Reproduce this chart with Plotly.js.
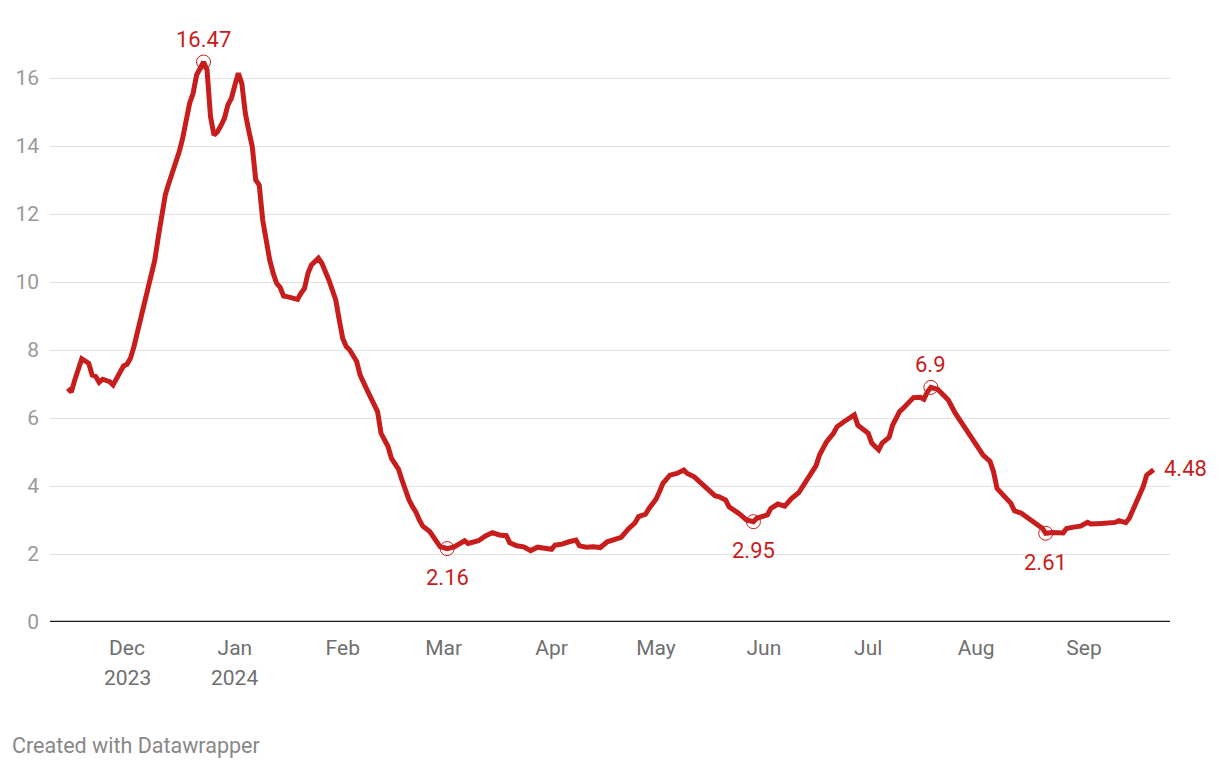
<!DOCTYPE html>
<html>
<head>
<meta charset="utf-8">
<script src="https://cdn.plot.ly/plotly-3.0.1.min.js"></script>
<style>
  html, body { margin: 0; padding: 0; background: #ffffff; }
  #chart { width: 1220px; height: 768px; }
</style>
</head>
<body>
<div id="chart"></div>
<script>
// ---- data ----
const dates = [
  "2023-11-14","2023-11-15","2023-11-16","2023-11-18","2023-11-20","2023-11-21","2023-11-22","2023-11-23","2023-11-24","2023-11-26",
  "2023-11-27","2023-11-28","2023-11-30","2023-12-01","2023-12-02","2023-12-03","2023-12-04","2023-12-05","2023-12-06","2023-12-07",
  "2023-12-08","2023-12-09","2023-12-10","2023-12-11","2023-12-12","2023-12-13","2023-12-14","2023-12-15","2023-12-16","2023-12-17",
  "2023-12-18","2023-12-19","2023-12-20","2023-12-21","2023-12-22","2023-12-23","2023-12-24","2023-12-25","2023-12-26","2023-12-27",
  "2023-12-28","2023-12-29","2023-12-30","2023-12-31","2024-01-01","2024-01-02","2024-01-03","2024-01-04","2024-01-05","2024-01-06",
  "2024-01-07","2024-01-08","2024-01-09","2024-01-10","2024-01-11","2024-01-12","2024-01-13","2024-01-14","2024-01-15","2024-01-16",
  "2024-01-18","2024-01-19","2024-01-20","2024-01-21","2024-01-22","2024-01-23","2024-01-25","2024-01-26","2024-01-28","2024-01-30",
  "2024-01-31","2024-02-01","2024-02-02","2024-02-03","2024-02-05","2024-02-06","2024-02-08","2024-02-09","2024-02-11","2024-02-12",
  "2024-02-14","2024-02-15","2024-02-16","2024-02-17","2024-02-18","2024-02-19","2024-02-20","2024-02-21","2024-02-22","2024-02-23",
  "2024-02-24","2024-02-26","2024-02-27","2024-02-28","2024-02-29","2024-03-01","2024-03-02","2024-03-04","2024-03-05","2024-03-07",
  "2024-03-08","2024-03-10","2024-03-11","2024-03-13","2024-03-15","2024-03-17","2024-03-19","2024-03-20","2024-03-22","2024-03-24",
  "2024-03-26","2024-03-28","2024-03-30","2024-04-01","2024-04-02","2024-04-04","2024-04-06","2024-04-08","2024-04-09","2024-04-11",
  "2024-04-13","2024-04-15","2024-04-17","2024-04-19","2024-04-21","2024-04-23","2024-04-25","2024-04-26","2024-04-28","2024-04-29",
  "2024-05-01","2024-05-02","2024-05-03","2024-05-05","2024-05-07","2024-05-09","2024-05-10","2024-05-12","2024-05-14","2024-05-16",
  "2024-05-18","2024-05-19","2024-05-21","2024-05-22","2024-05-24","2024-05-25","2024-05-27","2024-05-29","2024-05-30","2024-06-01",
  "2024-06-02","2024-06-03","2024-06-05","2024-06-07","2024-06-09","2024-06-11","2024-06-13","2024-06-15","2024-06-16","2024-06-17",
  "2024-06-19","2024-06-21","2024-06-22","2024-06-24","2024-06-25","2024-06-27","2024-06-28","2024-06-30","2024-07-01","2024-07-02",
  "2024-07-04","2024-07-05","2024-07-07","2024-07-08","2024-07-10","2024-07-11","2024-07-13","2024-07-14","2024-07-16","2024-07-17",
  "2024-07-18","2024-07-19","2024-07-21","2024-07-22","2024-07-24","2024-07-26","2024-07-28","2024-07-30","2024-07-31","2024-08-02",
  "2024-08-03","2024-08-05","2024-08-06","2024-08-07","2024-08-09","2024-08-11","2024-08-12","2024-08-14","2024-08-16","2024-08-18",
  "2024-08-20","2024-08-21","2024-08-23","2024-08-26","2024-08-27","2024-08-29","2024-08-31","2024-09-02","2024-09-03","2024-09-06",
  "2024-09-08","2024-09-10","2024-09-11","2024-09-13","2024-09-14","2024-09-16","2024-09-18","2024-09-19","2024-09-21"
];
const values = [
  6.87,6.76,7.12,7.74,7.61,7.26,7.22,7.05,7.14,7.07,
  6.97,7.15,7.53,7.58,7.76,8.10,8.54,8.98,9.47,9.76,
  10.20,10.65,11.33,12.02,12.56,12.90,13.20,13.59,13.83,14.23,
  14.81,15.26,15.55,16.09,16.28,16.47,16.24,14.86,14.32,14.42,
  14.60,14.81,15.21,15.40,15.79,16.14,15.84,14.96,14.45,13.98,
  13.00,12.85,11.82,11.14,10.65,10.26,9.96,9.84,9.59,9.57,
  9.52,9.49,9.67,9.81,10.26,10.50,10.70,10.55,10.06,9.47,
  8.88,8.34,8.10,8.00,7.66,7.26,6.82,6.58,6.19,5.55,
  5.16,4.81,4.65,4.50,4.18,3.85,3.60,3.40,3.24,3.00,
  2.82,2.66,2.51,2.31,2.21,2.19,2.16,2.21,2.28,2.39,
  2.31,2.36,2.39,2.53,2.63,2.56,2.54,2.33,2.24,2.21,
  2.10,2.20,2.17,2.14,2.26,2.29,2.36,2.41,2.24,2.20,
  2.21,2.19,2.36,2.41,2.49,2.73,2.92,3.10,3.17,3.34,
  3.61,3.83,4.08,4.32,4.37,4.47,4.37,4.27,4.08,3.88,
  3.71,3.69,3.59,3.39,3.27,3.18,3.00,2.95,3.05,3.12,
  3.15,3.34,3.47,3.41,3.64,3.80,4.10,4.40,4.60,4.91,
  5.30,5.55,5.74,5.89,5.96,6.09,5.79,5.65,5.55,5.26,
  5.06,5.26,5.43,5.79,6.19,6.28,6.53,6.60,6.61,6.55,
  6.77,6.90,6.84,6.73,6.53,6.14,5.84,5.50,5.35,5.11,
  4.91,4.72,4.42,3.93,3.69,3.49,3.27,3.20,3.05,2.90,
  2.76,2.61,2.63,2.62,2.75,2.79,2.82,2.93,2.88,2.90,
  2.92,2.93,2.98,2.92,3.05,3.49,3.98,4.32,4.48
];

// highlighted points (circle + label) and the end label
const highlightDates = ["2023-12-23","2024-03-02","2024-05-29","2024-07-19","2024-08-21"];
const highlightLabels = ["16.47","2.16","2.95","6.9","2.61"];
const highlightPlacement = ["above","below","below","above","below"];
const endLabel = "4.48";

// axis ticks
const xTickVals = ["2023-12-01","2024-01-01","2024-02-01","2024-03-01","2024-04-01","2024-05-01","2024-06-01","2024-07-01","2024-08-01","2024-09-01"];
const xTickText = ["Dec","Jan","Feb","Mar","Apr","May","Jun","Jul","Aug","Sep"];
const xYearVals = ["2023-12-01","2024-01-01"];
const xYearText = ["2023","2024"];
const yTickVals = [0,2,4,6,8,10,12,14,16];
const yTickText = ["0","2","4","6","8","10","12","14","16"];

const footerText = "Created with Datawrapper";

// ---- drawing ----
const RED = "#c71e1d";
const FONT = "Roboto, 'Noto Sans', sans-serif";
const XLABEL_COLOR = "#6f6f6f";

const hlValues = highlightDates.map(d => values[dates.indexOf(d)]);

const traces = [
  {
    x: dates, y: values, type: "scatter", mode: "lines",
    line: { color: RED, width: 5, shape: "linear" },
    hoverinfo: "x+y", showlegend: false
  },
  {
    x: highlightDates, y: hlValues, type: "scatter", mode: "markers",
    marker: { symbol: "circle-open", size: 14, color: RED, line: { color: RED, width: 1 } },
    hoverinfo: "skip", showlegend: false
  }
];

const annotations = highlightDates.map((d, i) => ({
  x: d, y: hlValues[i], xref: "x", yref: "y",
  text: highlightLabels[i], showarrow: false,
  xanchor: "center", yanchor: "middle",
  yshift: highlightPlacement[i] === "above" ? 23 : -29,
  font: { family: FONT, size: 22, color: RED }
}));

annotations.push({
  x: dates[dates.length - 1], y: values[values.length - 1], xref: "x", yref: "y",
  text: endLabel, showarrow: false, xanchor: "left", yanchor: "middle",
  xshift: 8, yshift: 1,
  font: { family: FONT, size: 22, color: RED }
});

xYearVals.forEach((d, i) => annotations.push({
  x: d, y: (622 - 678) / 612, xref: "x", yref: "paper",
  text: xYearText[i], showarrow: false, xanchor: "center", yanchor: "middle",
  font: { family: FONT, size: 21, color: XLABEL_COLOR }
}));

annotations.push({
  x: -40 / 1120, y: (622 - 745) / 612, xref: "paper", yref: "paper",
  text: footerText, showarrow: false, xanchor: "left", yanchor: "middle",
  font: { family: FONT, size: 21.5, color: "#888888" }
});

const layout = {
  width: 1220, height: 768,
  margin: { l: 50, r: 50, t: 10, b: 146, pad: 0 },
  paper_bgcolor: "#ffffff", plot_bgcolor: "#ffffff",
  font: { family: FONT },
  showlegend: false,
  xaxis: {
    type: "date",
    range: ["2023-11-08 21:00", "2024-09-25 17:00"],
    tickvals: xTickVals, ticktext: xTickText,
    showgrid: false, zeroline: false, showline: false, ticks: "",
    ticklabelstandoff: 11,
    tickfont: { family: FONT, size: 21, color: XLABEL_COLOR },
    fixedrange: true
  },
  yaxis: {
    range: [0, 18],
    tickvals: yTickVals, ticktext: yTickText,
    showgrid: true, gridcolor: "#e3e3e3", gridwidth: 1,
    zeroline: false, showline: false, ticks: "",
    ticklabelstandoff: 10,
    tickfont: { family: FONT, size: 21, color: "#9a9a9a" },
    fixedrange: true
  },
  shapes: [
    { type: "line", xref: "paper", yref: "y", x0: 0, x1: 1, y0: 0, y1: 0,
      line: { color: "#1a1a1a", width: 2.5 }, layer: "above" }
  ],
  annotations: annotations
};

Plotly.newPlot("chart", traces, layout, { displayModeBar: false, staticPlot: true });
</script>
</body>
</html>
